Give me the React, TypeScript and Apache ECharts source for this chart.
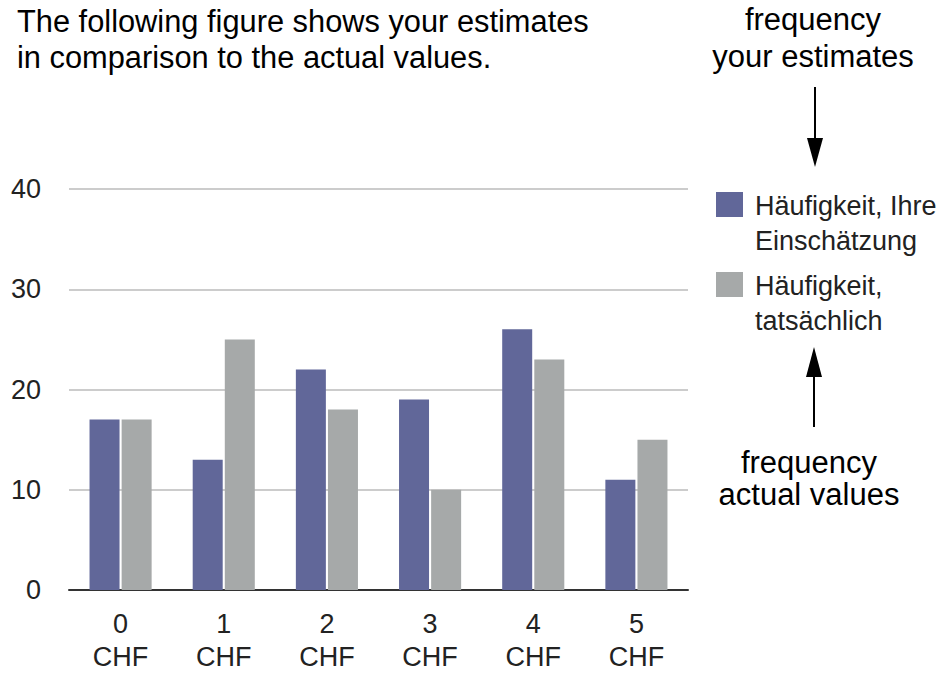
import React, { useEffect, useRef } from "react";
import * as echarts from "echarts";

const categories = ["0\nCHF", "1\nCHF", "2\nCHF", "3\nCHF", "4\nCHF", "5\nCHF"];
const seriesNames = ["Häufigkeit, Ihre\nEinschätzung", "Häufigkeit,\ntatsächlich"];
const estimates = [17, 13, 22, 19, 26, 11];
const actuals = [17, 25, 18, 10, 23, 15];
const yTicks = [0, 10, 20, 30, 40];
const colors = ["#616799", "#a6a9a9"];

const FONT = "'Liberation Sans', Arial, sans-serif";

export default function App() {
  const ref = useRef<HTMLDivElement>(null);

  useEffect(() => {
    if (!ref.current) return;
    const chart = echarts.init(ref.current, null, { renderer: "svg" });

    const legendItems = seriesNames.map((name, i) => ({
      type: "group",
      left: 716,
      top: 188 + i * 80,
      children: [
        { type: "rect", shape: { x: 0, y: 0, width: 27, height: 25 }, style: { fill: colors[i] } },
        {
          type: "text",
          x: 39,
          y: -4,
          style: { text: name, font: `27px ${FONT}`, fill: "#222", lineHeight: 35 },
        },
      ],
    }));

    chart.setOption({
      animation: false,
      backgroundColor: "#fff",
      textStyle: { fontFamily: FONT },
      grid: { left: 69, right: 258, top: 189, bottom: 84, containLabel: false },
      xAxis: {
        type: "category",
        data: categories,
        axisLine: { lineStyle: { color: "#333", width: 2 } },
        axisTick: { show: false },
        axisLabel: { fontSize: 27, color: "#222", lineHeight: 33, margin: 17, fontFamily: FONT },
      },
      yAxis: {
        type: "value",
        min: yTicks[0],
        max: yTicks[yTicks.length - 1],
        interval: 10,
        axisLine: { show: false },
        axisTick: { show: false },
        splitLine: { lineStyle: { color: "#cccccc", width: 2 } },
        axisLabel: { fontSize: 27, color: "#222", margin: 28, fontFamily: FONT },
      },
      series: [
        {
          name: seriesNames[0],
          type: "bar",
          data: estimates,
          barWidth: 30,
          barGap: "7%",
          itemStyle: { color: colors[0] },
        },
        {
          name: seriesNames[1],
          type: "bar",
          data: actuals,
          barWidth: 30,
          barGap: "7%",
          itemStyle: { color: colors[1] },
        },
      ],
      graphic: [
        {
          type: "text",
          left: 17,
          top: 3,
          style: {
            text: "The following figure shows your estimates\nin comparison to the actual values.",
            font: `30.8px ${FONT}`,
            fill: "#000",
            lineHeight: 36,
          },
        },
        {
          type: "text",
          x: 813,
          y: 1,
          style: {
            text: "frequency\nyour estimates",
            font: `31px ${FONT}`,
            fill: "#000",
            lineHeight: 37,
            align: "center",
          },
        },
        { type: "line", shape: { x1: 815, y1: 87, x2: 815, y2: 140 }, style: { stroke: "#000", lineWidth: 2 } },
        { type: "polygon", shape: { points: [[807, 138], [823, 138], [815, 167]] }, style: { fill: "#000" } },
        { type: "line", shape: { x1: 814, y1: 375, x2: 814, y2: 427 }, style: { stroke: "#000", lineWidth: 2 } },
        { type: "polygon", shape: { points: [[806, 377], [822, 377], [814, 347]] }, style: { fill: "#000" } },
        {
          type: "text",
          x: 809,
          y: 446,
          style: {
            text: "frequency\nactual values",
            font: `31px ${FONT}`,
            fill: "#000",
            lineHeight: 32,
            align: "center",
          },
        },
        ...legendItems,
      ],
    });

    return () => chart.dispose();
  }, []);

  return <div ref={ref} style={{ width: 946, height: 674, position: "absolute", left: 0, top: 0 }} />;
}
